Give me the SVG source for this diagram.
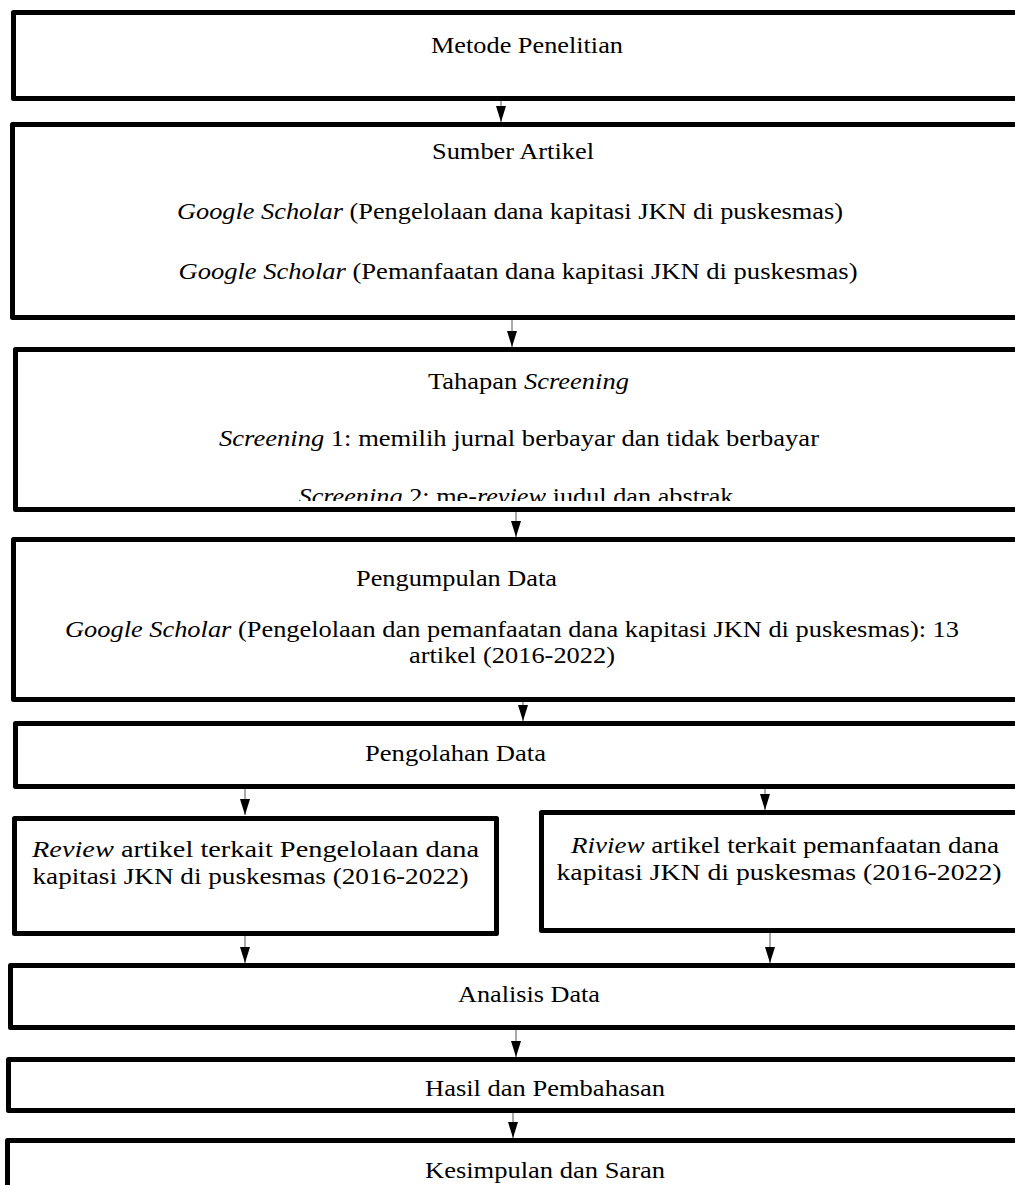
<svg xmlns="http://www.w3.org/2000/svg" width="1015" height="1185" viewBox="0 0 1015 1185">
<style>
.box{fill:#fff;stroke:#000;stroke-width:5;stroke-linejoin:round}
.t{font-family:'Liberation Serif','Times New Roman',Times,serif;font-size:23px;fill:#000;text-anchor:middle}
.s{text-anchor:start}
.i{font-style:italic}
.c{stroke:#555;stroke-width:1;fill:none}
</style>
<defs>
<marker id="ah" markerUnits="userSpaceOnUse" markerWidth="16" markerHeight="12" refX="16" refY="5" orient="auto" viewBox="0 0 16 10">
<path d="M0,0 L16,5 L0,10 Z" fill="#000"/>
</marker>
<clipPath id="clip3"><rect x="0" y="350" width="1015" height="151"/></clipPath>
</defs>
<rect width="1015" height="1185" fill="#fff"/>
<g id="connectors">
<line class="c" x1="501" y1="99" x2="501" y2="122" marker-end="url(#ah)"/>
<line class="c" x1="512" y1="320" x2="512" y2="347" marker-end="url(#ah)"/>
<line class="c" x1="516" y1="510" x2="516" y2="537" marker-end="url(#ah)"/>
<line class="c" x1="523" y1="701" x2="523" y2="721" marker-end="url(#ah)"/>
<line class="c" x1="245" y1="789" x2="245" y2="815" marker-end="url(#ah)"/>
<line class="c" x1="765" y1="789" x2="765" y2="810" marker-end="url(#ah)"/>
<line class="c" x1="245" y1="936" x2="245" y2="963" marker-end="url(#ah)"/>
<line class="c" x1="770" y1="932" x2="770" y2="963" marker-end="url(#ah)"/>
<line class="c" x1="516" y1="1029" x2="516" y2="1057" marker-end="url(#ah)"/>
<line class="c" x1="513" y1="1112" x2="513" y2="1138" marker-end="url(#ah)"/>
</g>
<g id="n1">
<rect class="box" x="13.5" y="12.5" width="1030" height="86"/>
<text class="t s" x="431" y="53" textLength="192" lengthAdjust="spacingAndGlyphs">Metode Penelitian</text>
</g>
<g id="n2">
<rect class="box" x="12.5" y="124.5" width="1030" height="193"/>
<text class="t s" x="432" y="159" textLength="162" lengthAdjust="spacingAndGlyphs">Sumber Artikel</text>
<text class="t" x="510" y="219" textLength="666" lengthAdjust="spacingAndGlyphs"><tspan class="i">Google Scholar</tspan> (Pengelolaan dana kapitasi JKN di puskesmas)</text>
<text class="t" x="518" y="279" textLength="679" lengthAdjust="spacingAndGlyphs"><tspan class="i">Google Scholar</tspan> (Pemanfaatan dana kapitasi JKN di puskesmas)</text>
</g>
<g id="n3">
<rect class="box" x="15.5" y="349.5" width="1030" height="160"/>
<text class="t s" x="428" y="389" textLength="201" lengthAdjust="spacingAndGlyphs">Tahapan <tspan class="i">Screening</tspan></text>
<text class="t" x="519" y="446" textLength="600" lengthAdjust="spacingAndGlyphs"><tspan class="i">Screening</tspan> 1: memilih jurnal berbayar dan tidak berbayar</text>
<g clip-path="url(#clip3)">
<text class="t" x="516" y="504" textLength="435" lengthAdjust="spacingAndGlyphs"><tspan class="i">Screening</tspan> 2: me-<tspan class="i">review</tspan> judul dan abstrak</text>
</g>
</g>
<g id="n4">
<rect class="box" x="13.5" y="539.5" width="1030" height="160"/>
<text class="t s" x="356" y="586" textLength="201" lengthAdjust="spacingAndGlyphs">Pengumpulan Data</text>
<text class="t" x="512" y="637" textLength="894" lengthAdjust="spacingAndGlyphs"><tspan class="i">Google Scholar</tspan> (Pengelolaan dan pemanfaatan dana kapitasi JKN di puskesmas): 13</text>
<text class="t" x="512" y="663" textLength="206" lengthAdjust="spacingAndGlyphs">artikel (2016-2022)</text>
</g>
<g id="n5">
<rect class="box" x="15.5" y="723.5" width="1030" height="63"/>
<text class="t s" x="365" y="761" textLength="181" lengthAdjust="spacingAndGlyphs">Pengolahan Data</text>
</g>
<g id="n6">
<rect class="box" x="14.5" y="818.5" width="482" height="115"/>
<text class="t" x="255.5" y="857" textLength="447" lengthAdjust="spacingAndGlyphs"><tspan class="i">Review</tspan> artikel terkait Pengelolaan dana</text>
<text class="t" x="250.5" y="884" textLength="436" lengthAdjust="spacingAndGlyphs">kapitasi JKN di puskesmas (2016-2022)</text>
</g>
<g id="n7">
<rect class="box" x="541.5" y="812.5" width="500" height="118"/>
<text class="t" x="785" y="853" textLength="428" lengthAdjust="spacingAndGlyphs"><tspan class="i">Riview</tspan> artikel terkait pemanfaatan dana</text>
<text class="t" x="779" y="880" textLength="445" lengthAdjust="spacingAndGlyphs">kapitasi JKN di puskesmas (2016-2022)</text>
</g>
<g id="n8">
<rect class="box" x="10.5" y="965.5" width="1030" height="62"/>
<text class="t s" x="458" y="1002" textLength="142" lengthAdjust="spacingAndGlyphs">Analisis Data</text>
</g>
<g id="n9">
<rect class="box" x="8.5" y="1059.5" width="1030" height="51"/>
<text class="t s" x="425" y="1096" textLength="240" lengthAdjust="spacingAndGlyphs">Hasil dan Pembahasan</text>
</g>
<g id="n10">
<rect class="box" x="7.5" y="1140.5" width="1030" height="80"/>
<text class="t s" x="425" y="1178" textLength="240" lengthAdjust="spacingAndGlyphs">Kesimpulan dan Saran</text>
</g>
</svg>
